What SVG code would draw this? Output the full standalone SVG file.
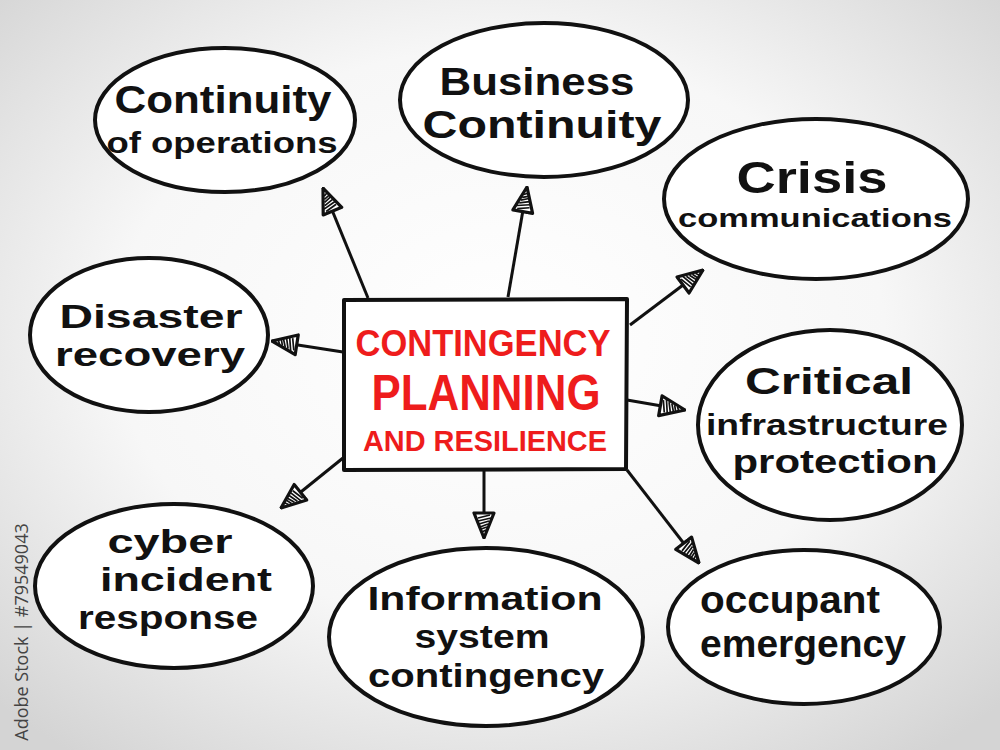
<svg xmlns="http://www.w3.org/2000/svg" width="1000" height="750" viewBox="0 0 1000 750">
<defs>
<radialGradient id="bg" cx="50%" cy="45%" r="70%">
<stop offset="0%" stop-color="#ffffff"/>
<stop offset="55%" stop-color="#f7f7f7"/>
<stop offset="100%" stop-color="#d4d4d4"/>
</radialGradient>
<marker id="ah" viewBox="0 0 28 24" refX="27" refY="12" markerWidth="28" markerHeight="24" markerUnits="userSpaceOnUse" orient="auto">
<path d="M2,2 L27,12 L2,22 Z" fill="#fff" stroke="#111" stroke-width="3.2" stroke-linejoin="round"/>
<path d="M4,6 L7,18 M7,5 L10,18 M10,7 L13,17 M13,8 L16,16 M16,9 L18,15 M19,10 L21,14" stroke="#111" stroke-width="1.7" fill="none"/>
</marker>
<style>
.el{fill:#fff;stroke:#111;stroke-width:4}
.t{font-family:"Liberation Sans",Arial,sans-serif;font-weight:700;fill:#111;text-anchor:middle}
.r{font-family:"Liberation Sans",Arial,sans-serif;font-weight:700;fill:#ee1c1c;text-anchor:middle}
.ln{stroke:#111;stroke-width:3;fill:none;marker-end:url(#ah)}
</style>
</defs>
<rect width="1000" height="750" fill="url(#bg)"/>
<text transform="translate(28,632) rotate(-90)" font-family="Open Sans, Liberation Sans, sans-serif" font-size="18" fill="#444" text-anchor="middle">Adobe Stock | #79549043</text>

<g id="connectors">
<line class="ln" x1="368" y1="298" x2="323" y2="188"/>
<line class="ln" x1="508" y1="297" x2="527" y2="187"/>
<line class="ln" x1="630" y1="325" x2="703" y2="270"/>
<line class="ln" x1="343" y1="352" x2="272" y2="341"/>
<line class="ln" x1="627" y1="400" x2="685" y2="410"/>
<line class="ln" x1="343" y1="458" x2="281" y2="508"/>
<line class="ln" x1="484" y1="470" x2="484" y2="538"/>
<line class="ln" x1="627" y1="470" x2="699" y2="563"/>
</g>

<g id="center">
<path d="M344,300 L627,299 L626,469 L344,470 Z" fill="#fff" stroke="#111" stroke-width="4" stroke-linejoin="round"/>
<text class="r" x="483" y="356" font-size="37" textLength="255" lengthAdjust="spacingAndGlyphs">CONTINGENCY</text>
<text class="r" x="486" y="410" font-size="50" textLength="229" lengthAdjust="spacingAndGlyphs">PLANNING</text>
<text class="r" x="485" y="451" font-size="30" textLength="244" lengthAdjust="spacingAndGlyphs">AND RESILIENCE</text>
</g>

<g id="n-continuity-ops">
<ellipse class="el" cx="225" cy="120" rx="130" ry="72"/>
<text class="t" x="223" y="113" font-size="38" textLength="217" lengthAdjust="spacingAndGlyphs">Continuity</text>
<text class="t" x="222" y="153" font-size="30" textLength="231" lengthAdjust="spacingAndGlyphs">of operations</text>
</g>

<g id="n-business">
<ellipse class="el" cx="544" cy="100" rx="144" ry="77"/>
<text class="t" x="537" y="95" font-size="38" textLength="195" lengthAdjust="spacingAndGlyphs">Business</text>
<text class="t" x="542" y="138" font-size="38" textLength="239" lengthAdjust="spacingAndGlyphs">Continuity</text>
</g>

<g id="n-crisis">
<ellipse class="el" cx="816" cy="199" rx="152" ry="80"/>
<text class="t" x="812" y="193" font-size="44" textLength="151" lengthAdjust="spacingAndGlyphs">Crisis</text>
<text class="t" x="815" y="227" font-size="26" textLength="274" lengthAdjust="spacingAndGlyphs">communications</text>
</g>

<g id="n-disaster">
<ellipse class="el" cx="149" cy="335" rx="119" ry="77"/>
<text class="t" x="151" y="328" font-size="33" textLength="183" lengthAdjust="spacingAndGlyphs">Disaster</text>
<text class="t" x="150" y="366" font-size="33" textLength="190" lengthAdjust="spacingAndGlyphs">recovery</text>
</g>

<g id="n-critical">
<ellipse class="el" cx="830" cy="425" rx="132" ry="95"/>
<text class="t" x="829" y="394" font-size="36" textLength="168" lengthAdjust="spacingAndGlyphs">Critical</text>
<text class="t" x="827" y="435" font-size="30" textLength="242" lengthAdjust="spacingAndGlyphs">infrastructure</text>
<text class="t" x="835" y="473" font-size="33" textLength="205" lengthAdjust="spacingAndGlyphs">protection</text>
</g>

<g id="n-cyber">
<ellipse class="el" cx="174" cy="586" rx="139" ry="82"/>
<text class="t" x="170" y="553" font-size="33" textLength="125" lengthAdjust="spacingAndGlyphs">cyber</text>
<text class="t" x="186" y="591" font-size="33" textLength="172" lengthAdjust="spacingAndGlyphs">incident</text>
<text class="t" x="168" y="629" font-size="33" textLength="180" lengthAdjust="spacingAndGlyphs">response</text>
</g>

<g id="n-information">
<ellipse class="el" cx="486" cy="637" rx="157" ry="89"/>
<text class="t" x="485" y="610" font-size="33" textLength="235" lengthAdjust="spacingAndGlyphs">Information</text>
<text class="t" x="482" y="648" font-size="33" textLength="135" lengthAdjust="spacingAndGlyphs">system</text>
<text class="t" x="486" y="687" font-size="33" textLength="236" lengthAdjust="spacingAndGlyphs">contingency</text>
</g>

<g id="n-occupant">
<ellipse class="el" cx="804" cy="627" rx="136" ry="77"/>
<text class="t" x="790" y="613" font-size="38" textLength="180" lengthAdjust="spacingAndGlyphs">occupant</text>
<text class="t" x="803" y="657" font-size="38" textLength="206" lengthAdjust="spacingAndGlyphs">emergency</text>
</g>
</svg>
